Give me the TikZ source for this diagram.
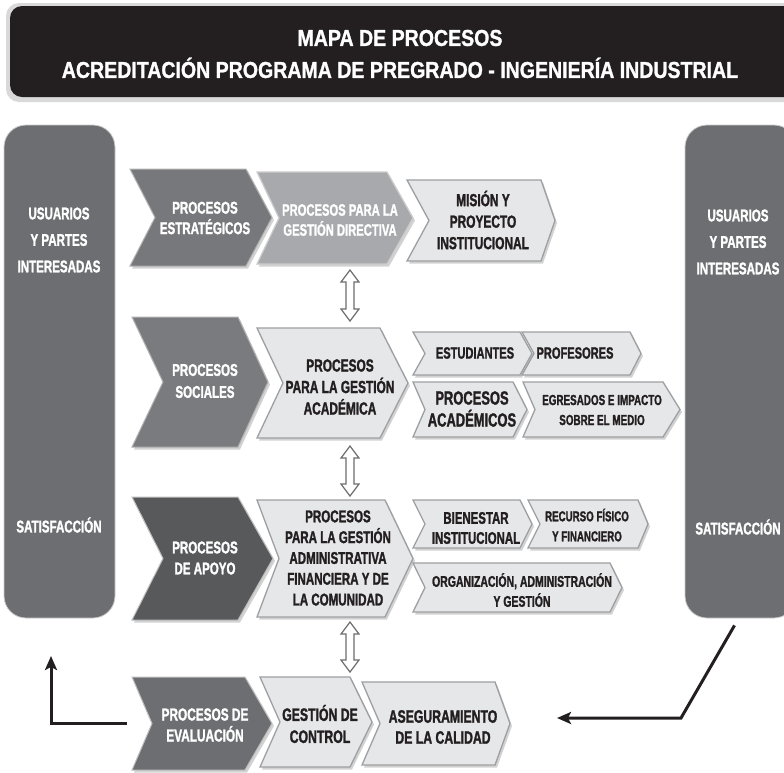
\documentclass[tikz,border=0pt]{standalone}
\usepackage{fontspec}
\setmainfont{Liberation Sans}
\newfontfamily\condfont{Liberation Sans Bold}[FakeStretch=0.68,FakeBold=1.4]
\newfontfamily\ttlfont{Liberation Sans Bold}[FakeStretch=0.85,FakeBold=1.2]
\usetikzlibrary{calc,shadows,arrows.meta}
\definecolor{ttl}{HTML}{231F20}
\definecolor{barc}{HTML}{6D6E71}
\definecolor{dkA}{HTML}{77787B}
\definecolor{dkB}{HTML}{7A7B7E}
\definecolor{dkC}{HTML}{58595B}
\definecolor{dkD}{HTML}{6D6E71}
\definecolor{midc}{HTML}{A7A9AC}
\definecolor{lightc}{HTML}{E6E7E8}
\definecolor{edgec}{HTML}{9D9FA2}
\newcommand{\cf}[2]{\condfont\fontsize{#1}{#2}\selectfont}
\newcommand{\chev}[8]{%
  \path[#2] (#3,#5) -- (#4,#5) -- ({#4+#7},{(#5+#6)/2}) -- (#4,#6) -- (#3,#6) -- ({#3+#8},{(#5+#6)/2}) -- cycle;
  \coordinate (#1-w) at (#3,{(#5+#6)/2});
}
\newcommand{\dblarr}[2]{%
  \draw[hollow] let \p1=(#1), \p2=(#2) in
  (\x1,\y1) -- (\x1+9pt,\y1-12pt) -- (\x1+4pt,\y1-12pt) -- (\x1+4pt,\y2+12pt) -- (\x1+9pt,\y2+12pt) -- (\x1,\y2)
  -- (\x1-9pt,\y2+12pt) -- (\x1-4pt,\y2+12pt) -- (\x1-4pt,\y1-12pt) -- (\x1-9pt,\y1-12pt) -- cycle;
}
\begin{document}
\begin{tikzpicture}[x=1pt,y=-1pt,
  shad/.style={drop shadow={shadow xshift=2pt,shadow yshift=-2.5pt,opacity=0.35}},
  darkA/.style={fill=dkA,draw=gray!60,line width=1pt,shad},
  darkB/.style={fill=dkB,draw=gray!60,line width=1pt,shad},
  darkC/.style={fill=dkC,draw=gray!50,line width=1pt,shad},
  darkD/.style={fill=dkD,draw=gray!50,line width=1pt,shad},
  midbox/.style={fill=midc,draw=gray!40,line width=1.2pt,shad},
  lightbox/.style={fill=lightc,draw=edgec,line width=1.3pt,shad},
  wtxt/.style={text=white,align=center,inner sep=0pt},
  btxt/.style={text=ttl,align=center,inner sep=0pt},
  bar/.style={fill=barc,rounded corners=22pt,inner sep=0pt,draw=gray!40,line width=0.8pt},
  hollow/.style={fill=white,draw=gray!85!black,line width=1.2pt},
  fb/.style={draw=ttl,line width=3pt,-{Stealth[length=14pt,width=12pt,inset=3pt]}}]
\path[use as bounding box, clip] (0,0) rectangle (784,772);
\fill[white] (0,0) rectangle (784,772);

% title
\fill[gray!30, rounded corners=13pt] (6,3) rectangle (800,102);
\fill[ttl, rounded corners=12pt] (10,6) rectangle (800,97);
\node[wtxt, font=\ttlfont\fontsize{23}{32}\selectfont] (title) at (400,54)
  {MAPA DE PROCESOS\\ACREDITACIÓN PROGRAMA DE PREGRADO - INGENIERÍA INDUSTRIAL};

% side bars
\node[bar, minimum width=111pt, minimum height=493pt] (LB) at (59.5,371.5) {};
\node[bar, minimum width=111pt, minimum height=493pt] (RB) at (740.5,371.5) {};
\node[wtxt, font={\cf{17}{26.5}}] (LBt) at (59,240) {USUARIOS\\Y PARTES\\INTERESADAS};
\node[wtxt, font={\cf{17}{26.5}}] (LBs) at (59,525) {SATISFACCIÓN};
\node[wtxt, font={\cf{17}{26.5}}] (RBt) at (738,242) {USUARIOS\\Y PARTES\\INTERESADAS};
\node[wtxt, font={\cf{17}{26.5}}] (RBs) at (738,527) {SATISFACCIÓN};

% row 1
\chev{S1}{darkA}{130}{246}{169}{266}{26}{25}
\chev{S2}{midbox}{257}{387}{172}{264}{26}{22}
\chev{S3}{lightbox}{407}{541}{180}{261}{14}{22}
\node[wtxt, font={\cf{17}{20.5}}] (S1t) at (205,218) {PROCESOS\\ESTRATÉGICOS};
\node[wtxt, font={\cf{16.5}{20}}] (S2t) at (340,220) {PROCESOS PARA LA\\GESTIÓN DIRECTIVA};
\node[btxt, font={\cf{17.5}{21.5}}] (S3t) at (483,220) {MISIÓN Y\\PROYECTO\\INSTITUCIONAL};

% row 2
\chev{A1}{darkB}{132}{238}{317}{447}{30}{31}
\chev{A2}{lightbox}{257}{380}{328}{438}{28}{26}
\chev{A3}{lightbox}{413}{520}{332}{375}{12}{12}
\chev{A4}{lightbox}{522}{630}{332}{375}{11}{12}
\chev{A5}{lightbox}{413}{513}{382}{437}{14}{12}
\chev{A6}{lightbox}{523}{663}{382}{437}{17}{12}
\node[wtxt, font={\cf{17}{22}}] (A1t) at (205,381) {PROCESOS\\SOCIALES};
\node[btxt, font={\cf{17.5}{21.5}}] (A2t) at (340,387) {PROCESOS\\PARA LA GESTIÓN\\ACADÉMICA};
\node[btxt, font={\cf{16.3}{20}}] (A3t) at (475,353) {ESTUDIANTES};
\node[btxt, font={\cf{16.3}{20}}] (A4t) at (575,353) {PROFESORES};
\node[btxt, font={\cf{19}{22}}] (A5t) at (472,409) {PROCESOS\\ACADÉMICOS};
\node[btxt, font={\cf{14.5}{20}}] (A6t) at (602,410) {EGRESADOS E IMPACTO\\SOBRE EL MEDIO};

% row 3
\chev{B1}{darkC}{132}{238}{497}{620}{35}{31}
\chev{B2}{lightbox}{257}{385}{500}{617}{28}{22}
\chev{B3}{lightbox}{413}{520}{500}{548}{12}{12}
\chev{B4}{lightbox}{528}{638}{500}{548}{10}{12}
\chev{B5}{lightbox}{413}{610}{563}{612}{12}{12}
\node[wtxt, font={\cf{17}{21}}] (B1t) at (205,558) {PROCESOS\\DE APOYO};
\node[btxt, font={\cf{17}{20.8}}] (B2t) at (338,558) {PROCESOS\\PARA LA GESTIÓN\\ADMINISTRATIVA\\FINANCIERA Y DE\\LA COMUNIDAD};
\node[btxt, font={\cf{16.8}{20}}] (B3t) at (476,528) {BIENESTAR\\INSTITUCIONAL};
\node[btxt, font={\cf{14.3}{20}}] (B4t) at (587,525) {RECURSO FÍSICO\\Y FINANCIERO};
\node[btxt, font={\cf{15.4}{20}}] (B5t) at (522,590) {ORGANIZACIÓN, ADMINISTRACIÓN\\Y GESTIÓN};

% row 4
\chev{C1}{darkD}{132}{245}{677}{770}{27}{20}
\chev{C2}{lightbox}{260}{350}{677}{767}{22}{20}
\chev{C3}{lightbox}{362}{495}{682}{765}{15}{18}
\node[wtxt, font={\cf{17.4}{21}}] (C1t) at (205,725) {PROCESOS DE\\EVALUACIÓN};
\node[btxt, font={\cf{18}{22}}] (C2t) at (320,724) {GESTIÓN DE\\CONTROL};
\node[btxt, font={\cf{18}{21}}] (C3t) at (443,727) {ASEGURAMIENTO\\DE LA CALIDAD};

% double arrows
\coordinate (u1) at (350,270); \coordinate (d1) at (350,321);
\coordinate (u2) at (350,446); \coordinate (d2) at (350,496);
\coordinate (u3) at (350,622); \coordinate (d3) at (350,672);
\dblarr{u1}{d1}
\dblarr{u2}{d2}
\dblarr{u3}{d3}

% feedback arrows
\coordinate (fbL) at (51,656);
\draw[fb] ([xshift=-5pt]C1-w) -| (fbL);
\coordinate (rbk) at (681,718);
\coordinate (fbR) at (557,718);
\draw[fb] ([xshift=-6pt,yshift=-7pt]RB.south) -- (rbk) -- (fbR);
\end{tikzpicture}
\end{document}
